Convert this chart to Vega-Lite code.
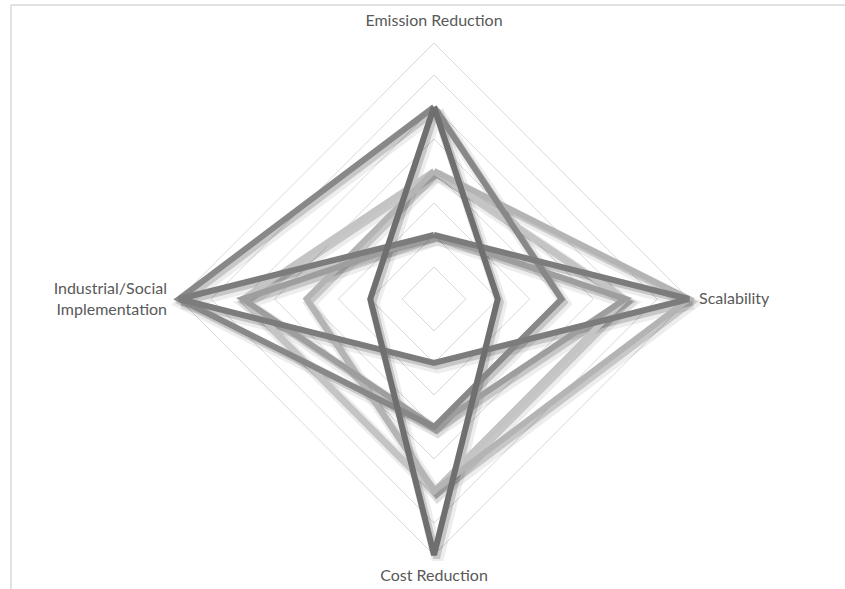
{
  "$schema": "https://vega.github.io/schema/vega-lite/v6.json",
  "width": 510,
  "height": 512,
  "autosize": {"type": "none"},
  "padding": {"left": 179, "top": 43, "right": 156, "bottom": 34},
  "background": "white",
  "config": {"view": {"stroke": null}},
  "datasets": {
    "grid": [
      {"ring": 1, "order": 0, "x": 0, "y": 1}, {"ring": 1, "order": 1, "x": 1, "y": 0}, {"ring": 1, "order": 2, "x": 0, "y": -1}, {"ring": 1, "order": 3, "x": -1, "y": 0}, {"ring": 1, "order": 4, "x": 0, "y": 1},
      {"ring": 2, "order": 0, "x": 0, "y": 2}, {"ring": 2, "order": 1, "x": 2, "y": 0}, {"ring": 2, "order": 2, "x": 0, "y": -2}, {"ring": 2, "order": 3, "x": -2, "y": 0}, {"ring": 2, "order": 4, "x": 0, "y": 2},
      {"ring": 3, "order": 0, "x": 0, "y": 3}, {"ring": 3, "order": 1, "x": 3, "y": 0}, {"ring": 3, "order": 2, "x": 0, "y": -3}, {"ring": 3, "order": 3, "x": -3, "y": 0}, {"ring": 3, "order": 4, "x": 0, "y": 3},
      {"ring": 4, "order": 0, "x": 0, "y": 4}, {"ring": 4, "order": 1, "x": 4, "y": 0}, {"ring": 4, "order": 2, "x": 0, "y": -4}, {"ring": 4, "order": 3, "x": -4, "y": 0}, {"ring": 4, "order": 4, "x": 0, "y": 4},
      {"ring": 5, "order": 0, "x": 0, "y": 5}, {"ring": 5, "order": 1, "x": 5, "y": 0}, {"ring": 5, "order": 2, "x": 0, "y": -5}, {"ring": 5, "order": 3, "x": -5, "y": 0}, {"ring": 5, "order": 4, "x": 0, "y": 5},
      {"ring": 6, "order": 0, "x": 0, "y": 6}, {"ring": 6, "order": 1, "x": 6, "y": 0}, {"ring": 6, "order": 2, "x": 0, "y": -6}, {"ring": 6, "order": 3, "x": -6, "y": 0}, {"ring": 6, "order": 4, "x": 0, "y": 6},
      {"ring": 7, "order": 0, "x": 0, "y": 7}, {"ring": 7, "order": 1, "x": 7, "y": 0}, {"ring": 7, "order": 2, "x": 0, "y": -7}, {"ring": 7, "order": 3, "x": -7, "y": 0}, {"ring": 7, "order": 4, "x": 0, "y": 7},
      {"ring": 8, "order": 0, "x": 0, "y": 8}, {"ring": 8, "order": 1, "x": 8, "y": 0}, {"ring": 8, "order": 2, "x": 0, "y": -8}, {"ring": 8, "order": 3, "x": -8, "y": 0}, {"ring": 8, "order": 4, "x": 0, "y": 8}
    ],
    "series": [
      {"tech": "F", "order": 0, "x": 0, "y": 4}, {"tech": "F", "order": 1, "x": 6, "y": 0}, {"tech": "F", "order": 2, "x": 0, "y": -6}, {"tech": "F", "order": 3, "x": -6, "y": 0}, {"tech": "F", "order": 4, "x": 0, "y": 4},
      {"tech": "E", "order": 0, "x": 0, "y": 4}, {"tech": "E", "order": 1, "x": 8, "y": 0}, {"tech": "E", "order": 2, "x": 0, "y": -6}, {"tech": "E", "order": 3, "x": -4, "y": 0}, {"tech": "E", "order": 4, "x": 0, "y": 4},
      {"tech": "D", "order": 0, "x": 0, "y": 2}, {"tech": "D", "order": 1, "x": 6, "y": 0}, {"tech": "D", "order": 2, "x": 0, "y": -4}, {"tech": "D", "order": 3, "x": -6, "y": 0}, {"tech": "D", "order": 4, "x": 0, "y": 2},
      {"tech": "C", "order": 0, "x": 0, "y": 6}, {"tech": "C", "order": 1, "x": 4, "y": 0}, {"tech": "C", "order": 2, "x": 0, "y": -4}, {"tech": "C", "order": 3, "x": -8, "y": 0}, {"tech": "C", "order": 4, "x": 0, "y": 6},
      {"tech": "B", "order": 0, "x": 0, "y": 2}, {"tech": "B", "order": 1, "x": 8, "y": 0}, {"tech": "B", "order": 2, "x": 0, "y": -2}, {"tech": "B", "order": 3, "x": -8, "y": 0}, {"tech": "B", "order": 4, "x": 0, "y": 2},
      {"tech": "A", "order": 0, "x": 0, "y": 6}, {"tech": "A", "order": 1, "x": 2, "y": 0}, {"tech": "A", "order": 2, "x": 0, "y": -8}, {"tech": "A", "order": 3, "x": -2, "y": 0}, {"tech": "A", "order": 4, "x": 0, "y": 6}
    ],
    "labels": [
      {"label": "Emission Reduction", "pos": "top", "x": 0, "y": 8},
      {"label": "Scalability", "pos": "right", "x": 8, "y": 0},
      {"label": "Cost Reduction", "pos": "bottom", "x": 0, "y": -8},
      {"label": ["Industrial/Social", "Implementation"], "pos": "left", "x": -8, "y": 0}
    ]
  },
  "resolve": {"scale": {"x": "independent", "y": "independent"}},
  "layer": [
    {
      "data": {"values": [{}]},
      "mark": {"type": "rule", "stroke": "#d9d9d9", "strokeWidth": 1.5},
      "encoding": {
        "x": {"datum": -13.27, "type": "quantitative", "scale": {"domain": [-8, 8], "nice": false, "zero": false}, "axis": null},
        "x2": {"datum": 12.95},
        "y": {"datum": 9.19, "type": "quantitative", "scale": {"domain": [-8, 8], "nice": false, "zero": false}, "axis": null}
      }
    },
    {
      "data": {"values": [{}]},
      "mark": {"type": "rule", "stroke": "#d9d9d9", "strokeWidth": 1.5},
      "encoding": {
        "x": {"datum": -13.27, "type": "quantitative", "scale": {"domain": [-8, 8], "nice": false, "zero": false}, "axis": null},
        "y": {"datum": 9.19, "type": "quantitative", "scale": {"domain": [-8, 8], "nice": false, "zero": false}, "axis": null},
        "y2": {"datum": -9.1}
      }
    },
    {
      "data": {"name": "grid"},
      "mark": {"type": "line", "stroke": "#d9d9d9", "strokeWidth": 1},
      "encoding": {
        "x": {"field": "x", "type": "quantitative", "scale": {"domain": [-8, 8], "nice": false, "zero": false}, "axis": null},
        "y": {"field": "y", "type": "quantitative", "scale": {"domain": [-8, 8], "nice": false, "zero": false}, "axis": null},
        "detail": {"field": "ring"},
        "order": {"field": "order"}
      }
    },
    {
      "data": {"name": "series"},
      "mark": {"type": "line", "stroke": "#000000", "strokeOpacity": 0.07, "strokeWidth": 12, "strokeJoin": "miter"},
      "encoding": {
        "x": {"field": "x", "type": "quantitative", "scale": {"domain": [-8.11, 7.89], "nice": false, "zero": false}, "axis": null},
        "y": {"field": "y", "type": "quantitative", "scale": {"domain": [-7.86, 8.14], "nice": false, "zero": false}, "axis": null},
        "detail": {"field": "tech"},
        "order": {"field": "order"}
      }
    },
    {
      "data": {"name": "series"},
      "mark": {"type": "line", "stroke": "#000000", "strokeOpacity": 0.16, "strokeWidth": 7, "strokeJoin": "miter"},
      "encoding": {
        "x": {"field": "x", "type": "quantitative", "scale": {"domain": [-8.08, 7.92], "nice": false, "zero": false}, "axis": null},
        "y": {"field": "y", "type": "quantitative", "scale": {"domain": [-7.9, 8.1], "nice": false, "zero": false}, "axis": null},
        "detail": {"field": "tech"},
        "order": {"field": "order"}
      }
    },
    {
      "data": {"name": "series"},
      "mark": {"type": "line", "strokeWidth": 6, "strokeJoin": "miter"},
      "encoding": {
        "x": {"field": "x", "type": "quantitative", "scale": {"domain": [-8, 8], "nice": false, "zero": false}, "axis": null},
        "y": {"field": "y", "type": "quantitative", "scale": {"domain": [-8, 8], "nice": false, "zero": false}, "axis": null},
        "color": {"field": "tech", "type": "nominal", "legend": null, "scale": {"domain": ["A", "B", "C", "D", "E", "F"], "range": ["#6f6f6f", "#7c7c7c", "#888888", "#9e9e9e", "#b4b4b4", "#c4c4c4"]}},
        "detail": {"field": "tech"},
        "order": {"field": "order"}
      }
    },
    {
      "data": {"name": "labels"},
      "transform": [{"filter": "datum.pos == 'top'"}],
      "mark": {"type": "text", "font": "Lato", "fontSize": 16, "color": "#595959", "align": "center", "baseline": "middle", "dy": -22},
      "encoding": {
        "x": {"field": "x", "type": "quantitative", "scale": {"domain": [-8, 8], "nice": false, "zero": false}, "axis": null},
        "y": {"field": "y", "type": "quantitative", "scale": {"domain": [-8, 8], "nice": false, "zero": false}, "axis": null},
        "text": {"field": "label"}
      }
    },
    {
      "data": {"name": "labels"},
      "transform": [{"filter": "datum.pos == 'bottom'"}],
      "mark": {"type": "text", "font": "Lato", "fontSize": 16, "color": "#595959", "align": "center", "baseline": "middle", "dy": 21},
      "encoding": {
        "x": {"field": "x", "type": "quantitative", "scale": {"domain": [-8, 8], "nice": false, "zero": false}, "axis": null},
        "y": {"field": "y", "type": "quantitative", "scale": {"domain": [-8, 8], "nice": false, "zero": false}, "axis": null},
        "text": {"field": "label"}
      }
    },
    {
      "data": {"name": "labels"},
      "transform": [{"filter": "datum.pos == 'right'"}],
      "mark": {"type": "text", "font": "Lato", "fontSize": 16, "color": "#595959", "align": "left", "baseline": "middle", "dx": 10},
      "encoding": {
        "x": {"field": "x", "type": "quantitative", "scale": {"domain": [-8, 8], "nice": false, "zero": false}, "axis": null},
        "y": {"field": "y", "type": "quantitative", "scale": {"domain": [-8, 8], "nice": false, "zero": false}, "axis": null},
        "text": {"field": "label"}
      }
    },
    {
      "data": {"name": "labels"},
      "transform": [{"filter": "datum.pos == 'left'"}],
      "mark": {"type": "text", "font": "Lato", "fontSize": 16, "color": "#595959", "align": "right", "baseline": "middle", "dx": -12, "dy": -10, "lineHeight": 21},
      "encoding": {
        "x": {"field": "x", "type": "quantitative", "scale": {"domain": [-8, 8], "nice": false, "zero": false}, "axis": null},
        "y": {"field": "y", "type": "quantitative", "scale": {"domain": [-8, 8], "nice": false, "zero": false}, "axis": null},
        "text": {"field": "label"}
      }
    }
  ]
}
